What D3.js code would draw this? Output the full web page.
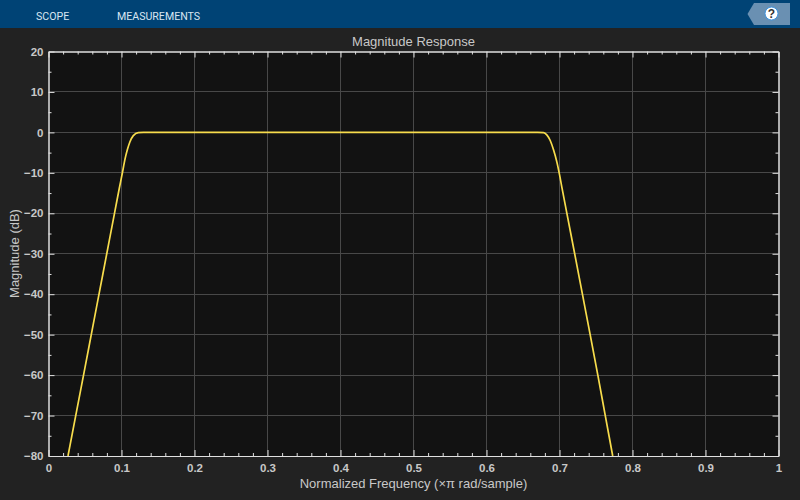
<!DOCTYPE html>
<html><head><meta charset="utf-8">
<script src="https://cdnjs.cloudflare.com/ajax/libs/d3/7.8.5/d3.min.js"></script>
<style>
html,body{margin:0;padding:0;background:#222;overflow:hidden}
svg{display:block}
text{font-family:"Liberation Sans",Arial,sans-serif}
</style></head><body><svg id="c" width="800" height="500"></svg>
<script>
const frequency=[0.0267,0.0373,0.048,0.0586,0.0692,0.0798,0.0904,0.097,0.1011,0.1048,0.108,0.1116,0.1162,0.123,0.13,0.3,0.5,0.67,0.678,0.6826,0.6873,0.6918,0.6965,0.7001,0.7034,0.7101,0.7208,0.7314,0.742,0.7525,0.7627,0.7729];
const magnitude=[-80,-70,-60,-50,-40,-30,-20,-13.8,-10.1,-6.6,-4.3,-2.3,-0.8,-0.05,0,0,0,0,-0.05,-0.6,-2,-4.3,-7.4,-10.5,-13.7,-20,-30,-40,-50,-60,-70,-80];
const xTicks=[0,0.1,0.2,0.3,0.4,0.5,0.6,0.7,0.8,0.9,1];
const xTickLabels=["0","0.1","0.2","0.3","0.4","0.5","0.6","0.7","0.8","0.9","1"];
const xMinorTicks=[0.02,0.04,0.06,0.08,0.12,0.14,0.16,0.18,0.22,0.24,0.26,0.28,0.32,0.34,0.36,0.38,0.42,0.44,0.46,0.48,0.52,0.54,0.56,0.58,0.62,0.64,0.66,0.68,0.72,0.74,0.76,0.78,0.82,0.84,0.86,0.88,0.92,0.94,0.96,0.98];
const yTicks=[-80,-70,-60,-50,-40,-30,-20,-10,0,10,20];
const yMinorTicks=[-75,-65,-55,-45,-35,-25,-15,-5,5,15];
const menuItems=["SCOPE","MEASUREMENTS"];
const titleText="Magnitude Response";
const xLabelText="Normalized Frequency (×π rad/sample)";
const yLabelText="Magnitude (dB)";

const svg=d3.select("#c");
const L=48.5,R=778.5,T=51.5,B=456;
const x=d3.scaleLinear().domain([0,1]).range([L,R]);
const y=d3.scaleLinear().domain([-80,20]).range([B,T]);
const textCol="#c8c8c8",axisCol="#e0e0e0",gridCol="#484848";

svg.append("rect").attr("width",800).attr("height",500).attr("fill","#222222");
svg.append("rect").attr("width",800).attr("height",28).attr("fill","#004375");
svg.selectAll(".menu").data(menuItems).join("text")
  .attr("x",(d,i)=>[36,117][i]).attr("y",19.5)
  .attr("font-size",10.6).attr("fill","#d8e6f2").attr("style","font-family:Roboto,sans-serif").text(d=>d);
svg.append("path").attr("d","M747.5,14L754,3H790V25H754Z").attr("fill","#6a90b2");
svg.append("circle").attr("cx",771.5).attr("cy",13.5).attr("r",6.5).attr("fill","#fff").attr("stroke","#3f94e0").attr("stroke-width",1);
svg.append("text").attr("x",771.5).attr("y",17.8).attr("text-anchor","middle").attr("font-size",12).attr("font-weight","bold").attr("fill","#333").text("?");

svg.append("rect").attr("x",L).attr("y",T).attr("width",R-L).attr("height",B-T).attr("fill","#121212");

svg.append("g").selectAll("line").data(xTicks.slice(1,-1)).join("line")
  .attr("x1",d=>x(d)).attr("x2",d=>x(d)).attr("y1",T).attr("y2",B).attr("stroke",gridCol).attr("shape-rendering","crispEdges");
svg.append("g").selectAll("line").data(yTicks.slice(1,-1)).join("line")
  .attr("y1",d=>Math.round(y(d)-.5)+.5).attr("y2",d=>Math.round(y(d)-.5)+.5).attr("x1",L).attr("x2",R).attr("stroke",gridCol).attr("shape-rendering","crispEdges");

svg.append("clipPath").attr("id","pl").append("rect").attr("x",L).attr("y",T).attr("width",R-L).attr("height",B-T);
const line=d3.line().x((d,i)=>x(frequency[i])).y(d=>y(d)).curve(d3.curveMonotoneX);
svg.append("path").datum(magnitude).attr("d",line).attr("clip-path","url(#pl)").attr("fill","none").attr("stroke","#f7dc4c").attr("stroke-width",1.7);

function styleAxis(g){
  g.select(".domain").attr("stroke",axisCol);
  g.selectAll(".tick line").attr("stroke",axisCol);
  g.selectAll("text").attr("fill",textCol).attr("font-size",11.5).attr("font-weight","bold").attr("style","font-family:'Liberation Sans',Arial,sans-serif");
}
svg.append("g").attr("transform",`translate(0,${B})`).call(d3.axisBottom(x).tickValues(xTicks).tickFormat((d,i)=>xTickLabels[i]).tickSize(-6).tickPadding(8).tickSizeOuter(0)).call(styleAxis);
svg.append("g").attr("transform",`translate(0,${B})`).call(d3.axisBottom(x).tickValues(xMinorTicks).tickFormat("").tickSize(-3).tickSizeOuter(0)).call(styleAxis);
svg.append("g").attr("transform",`translate(0,${T})`).call(d3.axisTop(x).tickValues(xTicks).tickFormat("").tickSize(-6).tickSizeOuter(0)).call(styleAxis);
svg.append("g").attr("transform",`translate(0,${T})`).call(d3.axisTop(x).tickValues(xMinorTicks).tickFormat("").tickSize(-3).tickSizeOuter(0)).call(styleAxis);
svg.append("g").attr("transform",`translate(${L},0)`).call(d3.axisLeft(y).tickValues(yTicks).tickSize(-6).tickPadding(5).tickSizeOuter(0)).call(styleAxis);
svg.append("g").attr("transform",`translate(${L},0)`).call(d3.axisLeft(y).tickValues(yMinorTicks).tickFormat("").tickSize(-3).tickSizeOuter(0)).call(styleAxis);
svg.append("g").attr("transform",`translate(${R},0)`).call(d3.axisRight(y).tickValues(yTicks).tickFormat("").tickSize(-6).tickSizeOuter(0)).call(styleAxis);
svg.append("g").attr("transform",`translate(${R},0)`).call(d3.axisRight(y).tickValues(yMinorTicks).tickFormat("").tickSize(-3).tickSizeOuter(0)).call(styleAxis);

svg.append("text").attr("x",413.5).attr("y",46).attr("text-anchor","middle").attr("font-size",13).attr("fill",textCol).text(titleText);
svg.append("text").attr("x",413.5).attr("y",488).attr("text-anchor","middle").attr("font-size",13).attr("fill",textCol).text(xLabelText);
svg.append("text").attr("transform","translate(18.5,253.5) rotate(-90)").attr("text-anchor","middle").attr("font-size",13).attr("fill",textCol).text(yLabelText);
</script></body></html>
